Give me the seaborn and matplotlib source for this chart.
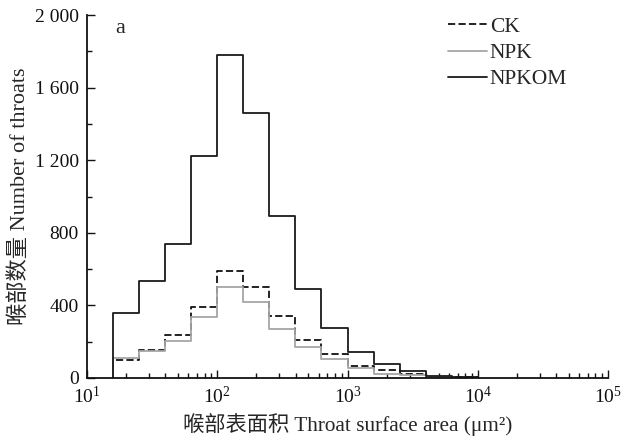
import numpy as np
import pandas as pd
import matplotlib
matplotlib.use("Agg")
import matplotlib.pyplot as plt
import seaborn as sns
from matplotlib.ticker import FixedLocator, FixedFormatter, LogLocator, NullFormatter, MultipleLocator

# ---- data ----
edge_exponents = [1.2, 1.4, 1.6, 1.8, 2.0, 2.2, 2.4, 2.6, 2.8, 3.0, 3.2, 3.4, 3.6, 3.8, 4.0]
ck = [100, 155, 238, 392, 590, 500, 344, 212, 130, 68, 42, 20, 6, 3]
npk = [108, 150, 205, 337, 503, 418, 271, 170, 102, 55, 24, 14, 4, 2]
npkom = [357, 535, 740, 1223, 1782, 1460, 893, 489, 278, 146, 75, 36, 10, 6]
series_names = ["CK", "NPK", "NPKOM"]
y_ticks = [0, 400, 800, 1200, 1600, 2000]
y_tick_labels = ["0", "400", "800", "1 200", "1 600", "2 000"]

sns.set_theme(style="ticks")
plt.rcParams["font.family"] = ["Liberation Serif", "Noto Sans CJK SC", "DejaVu Sans"]
plt.rcParams["mathtext.fontset"] = "stix"

edges = [10 ** e for e in edge_exponents]
rows = []
for name, counts in zip(series_names, [ck, npk, npkom]):
    xs = [edges[0]] + edges + [edges[-1]]
    ys = [0] + list(counts) + [counts[-1], 0]
    for x, y in zip(xs, ys):
        rows.append({"area": x, "count": y, "treatment": name})
df = pd.DataFrame(rows)

fig = plt.figure(figsize=(6.23, 4.42), dpi=100)
ax = fig.add_axes([87 / 623, 1 - 378 / 442, (608 - 87) / 623, (378 - 15) / 442])

palette = {"CK": "#111111", "NPK": "#a6a6a6", "NPKOM": "#1a1a1a"}
dashes = {"CK": (4, 1.8), "NPK": "", "NPKOM": ""}
sns.lineplot(data=df, x="area", y="count", hue="treatment", style="treatment",
             hue_order=series_names, style_order=series_names,
             palette=palette, dashes=dashes, estimator=None, sort=False,
             drawstyle="steps-post", linewidth=1.3, ax=ax, legend=True)

ax.set_xscale("log")
ax.set_xlim(10, 1e5)
ax.set_ylim(0, 2000)
ax.xaxis.set_major_locator(LogLocator(base=10, numticks=10))
ax.xaxis.set_minor_locator(LogLocator(base=10, subs=np.arange(2, 10), numticks=20))
ax.xaxis.set_minor_formatter(NullFormatter())
ax.yaxis.set_major_locator(FixedLocator(y_ticks))
ax.yaxis.set_major_formatter(FixedFormatter(y_tick_labels))
ax.yaxis.set_minor_locator(MultipleLocator(200))

ax.tick_params(which="major", direction="in", length=6, width=1.0, labelsize=14,
               colors="#111111")
ax.tick_params(which="minor", direction="in", length=3.5, width=1.0, colors="#111111")
ax.tick_params(axis="x", which="major", pad=6)
ax.tick_params(axis="y", which="major", pad=6)
for s in ["top", "right"]:
    ax.spines[s].set_visible(False)
for s in ["left", "bottom"]:
    ax.spines[s].set_linewidth(1.3)
    ax.spines[s].set_color("#111111")

ax.set_xlabel("喉部表面积 Throat surface area (μm²)", fontsize=15.3, labelpad=4)
ax.set_ylabel("喉部数量 Number of throats", fontsize=16, labelpad=3)
fig.text(115 / 623, 1 - 33 / 442, "a", fontsize=16)

sns.move_legend(ax, "upper left", bbox_to_anchor=(437 / 623, 1 - 6 / 442),
                bbox_transform=fig.transFigure, frameon=False, title=None,
                fontsize=15.5, handlelength=1.8, handletextpad=0.15,
                labelspacing=0.29, borderpad=0)

fig.savefig("out.png", dpi=100)
